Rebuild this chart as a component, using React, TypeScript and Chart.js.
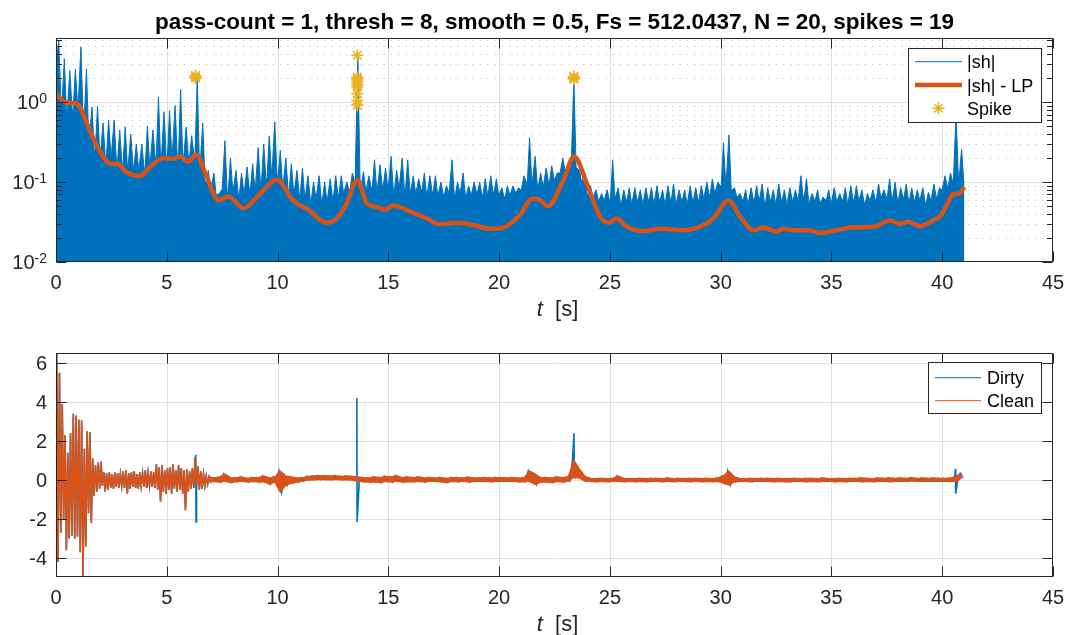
import { useEffect, useRef } from "react";
import { Chart, registerables } from "chart.js";

Chart.register(...registerables);

const FONT = '"Liberation Sans", Arimo, Arial, Helvetica, sans-serif';
const BLUE = "#0072BD";
const ORANGE = "#D95319";
const YELLOW = "#EDB120";
const INK = "#262626";

const TITLE =
  "pass-count = 1, thresh = 8, smooth = 0.5, Fs = 512.0437, N = 20, spikes = 19";

const T_MIN = 0;
const T_MAX = 45;
const xTicks = [0, 5, 10, 15, 20, 25, 30, 35, 40, 45];

// ---- upper panel: |sh| envelope (peak per 0.25 s bin, noise floor at bin edges) ----
const SH_BIN = 0.25;
const NEEDLE_HALF = 0.1;
const shPeaks = [
  5.9, 3.5, 2.5, 2.6,
  4.9, 2.6, 0.87, 0.89,
  0.55, 0.6, 0.6, 0.45,
  0.49, 0.4, 0.3, 0.3,
  0.5, 0.45, 1.16, 0.76,
  0.78, 0.91, 1.44, 0.49,
  0.38, 2.05, 0.55, 0.14,
  0.13, 0.072, 0.33, 0.2,
  0.14, 0.13, 0.155, 0.17,
  0.27, 0.3, 0.38, 0.57,
  0.25, 0.2, 0.17, 0.14,
  0.15, 0.12, 0.1, 0.12,
  0.1, 0.11, 0.12, 0.12,
  0.1, 0.13, 3.9, 0.135,
  0.12, 0.19, 0.165, 0.15,
  0.21, 0.14, 0.2, 0.19,
  0.12, 0.11, 0.13, 0.12,
  0.12, 0.1, 0.09, 0.19,
  0.1, 0.13, 0.09, 0.1,
  0.1, 0.11, 0.12, 0.11,
  0.085, 0.09, 0.09, 0.085,
  0.12, 0.36, 0.21, 0.13,
  0.15, 0.16, 0.13, 0.2,
  0.17, 2.0, 0.14, 0.13,
  0.09, 0.08, 0.072, 0.08,
  0.19, 0.085, 0.08, 0.085,
  0.085, 0.08, 0.085, 0.085,
  0.09, 0.08, 0.09, 0.095,
  0.08, 0.08, 0.09, 0.085,
  0.09, 0.1, 0.11, 0.1,
  0.31, 0.39, 0.085, 0.072,
  0.08, 0.085, 0.09, 0.095,
  0.085, 0.08, 0.095, 0.08,
  0.085, 0.08, 0.12, 0.11,
  0.072, 0.08, 0.065, 0.08,
  0.085, 0.072, 0.085, 0.09,
  0.09, 0.08, 0.072, 0.08,
  0.095, 0.08, 0.11, 0.1,
  0.085, 0.095, 0.085, 0.08,
  0.085, 0.075, 0.095, 0.085,
  0.12, 0.13, 0.7, 0.26,
];
const shFloor = [
  3.0, 1.0, 0.7, 0.8,
  0.9, 0.6, 0.35, 0.25,
  0.22, 0.2, 0.22, 0.18,
  0.17, 0.15, 0.16, 0.15,
  0.15, 0.17, 0.2, 0.18,
  0.2, 0.22, 0.2, 0.18,
  0.2, 0.22, 0.15, 0.1,
  0.08, 0.07, 0.08, 0.075,
  0.08, 0.07, 0.075, 0.08,
  0.085, 0.1, 0.11, 0.13,
  0.12, 0.09, 0.08, 0.075,
  0.07, 0.065, 0.06, 0.065,
  0.06, 0.06, 0.065, 0.07,
  0.075, 0.08, 0.1, 0.09,
  0.08, 0.085, 0.08, 0.09,
  0.085, 0.08, 0.09, 0.08,
  0.08, 0.075, 0.08, 0.07,
  0.075, 0.07, 0.07, 0.075,
  0.07, 0.075, 0.07, 0.07,
  0.075, 0.07, 0.07, 0.075,
  0.07, 0.065, 0.07, 0.075,
  0.08, 0.1, 0.1, 0.09,
  0.09, 0.1, 0.11, 0.13,
  0.14, 0.15, 0.15, 0.1,
  0.07, 0.065, 0.06, 0.06,
  0.06, 0.065, 0.055, 0.06,
  0.055, 0.06, 0.055, 0.06,
  0.055, 0.06, 0.055, 0.06,
  0.055, 0.06, 0.055, 0.06,
  0.06, 0.065, 0.07, 0.075,
  0.09, 0.1, 0.08, 0.065,
  0.06, 0.055, 0.06, 0.06,
  0.055, 0.06, 0.055, 0.06,
  0.055, 0.06, 0.06, 0.065,
  0.055, 0.06, 0.055, 0.06,
  0.055, 0.06, 0.06, 0.055,
  0.06, 0.06, 0.055, 0.06,
  0.06, 0.065, 0.065, 0.06,
  0.06, 0.065, 0.06, 0.06,
  0.06, 0.055, 0.06, 0.065,
  0.08, 0.09, 0.1, 0.12,
  0.1,
];

// low-passed |sh|
const lpT = [
  0, 0.42, 0.87, 1.08, 1.3, 1.72, 2.17, 2.47, 2.77, 3.15, 3.79, 4.24, 4.85, 5.3,
  5.6, 5.97, 6.32, 6.8, 7.33, 7.78, 8.46, 9.2, 9.96, 10.7, 11.4, 12.2, 12.67,
  13.12, 13.6, 14.03, 14.48, 14.85, 15.23, 15.98, 16.74, 17.34, 18.09, 18.84,
  19.6, 20.2, 20.95, 21.48, 21.84, 22.2, 22.9, 23.39, 23.96, 24.56, 24.94, 25.31,
  25.77, 26.5, 27.27, 28.3, 29.07, 29.67, 30.35, 30.88, 31.48, 31.93, 32.53,
  32.84, 33.29, 34.04, 34.5, 35.25, 35.85, 36.9, 37.65, 38.1, 38.48, 39.0, 39.6,
  39.9, 40.2, 40.5, 40.74, 41.0,
];
const lpV = [
  1.26, 1.0, 0.97, 0.87, 0.63, 0.335, 0.2, 0.17, 0.17, 0.135, 0.119, 0.155, 0.2,
  0.196, 0.21, 0.18, 0.22, 0.117, 0.059, 0.066, 0.047, 0.071, 0.107, 0.059,
  0.045, 0.031, 0.035, 0.054, 0.106, 0.054, 0.049, 0.045, 0.051, 0.043, 0.035,
  0.0296, 0.031, 0.029, 0.026, 0.027, 0.039, 0.062, 0.06, 0.05, 0.106, 0.21,
  0.096, 0.037, 0.031, 0.035, 0.0276, 0.0244, 0.026, 0.025, 0.0276, 0.035,
  0.059, 0.037, 0.025, 0.027, 0.024, 0.026, 0.025, 0.025, 0.023, 0.025, 0.027,
  0.0276, 0.033, 0.03, 0.032, 0.028, 0.0335, 0.037, 0.051, 0.071, 0.071, 0.087,
];

// detected spikes
const spikeT = [
  6.3, 6.3, 6.3,
  13.6, 13.6, 13.6, 13.6, 13.6, 13.6, 13.6, 13.6, 13.6, 13.6,
  23.37, 23.37, 23.37, 23.37,
  40.62, 40.62,
];
const spikeV = [
  2.0, 2.08, 2.15,
  3.87, 2.05, 1.98, 1.9, 1.79, 1.65, 1.55, 1.28, 1.06, 0.92,
  1.95, 2.0, 2.05, 2.1,
  0.68, 0.72,
];

const topYTicks = [0.01, 0.1, 1];
const topYMinor = [
  0.02, 0.03, 0.04, 0.05, 0.06, 0.07, 0.08, 0.09,
  0.2, 0.3, 0.4, 0.5, 0.6, 0.7, 0.8, 0.9,
  2, 3, 4, 5, 6,
];

// ---- lower panel: clean signal as max/min per bin ----
const CLEAN_EARLY_T0 = 0;
const CLEAN_EARLY_BIN = 0.125;
const cleanEarlyHi = [
  6.5, 5.5, 3.9, 2.3, 1.4, 2.4, 3.4, 3.3,
  3.1, 3.05, 1.6, 2.5, 2.45, 1.1, 0.75, 0.9,
  0.95, 0.4, 0.35, 0.4, 0.3, 0.4, 0.35, 0.3,
  0.45, 0.5, 0.35, 0.4, 0.45, 0.3, 0.4, 0.35,
  0.5, 0.35, 0.45, 0.4, 0.8, 0.65, 0.75, 0.5,
  0.6, 0.65, 0.8, 0.5, 0.75, 0.6, 0.5, 0.55,
  0.45, 0.6, 1.15, 0.7, 0.45, 0.3, 0.2, 0.15,
];
const cleanEarlyLo = [
  -4.2, -2.7, -2.0, -3.6, -3.0, -2.85, -3.0, -2.9,
  -3.7, -4.95, -3.4, -1.7, -2.2, -0.8, -0.6, -0.45,
  -0.3, -0.6, -0.5, -0.4, -0.45, -0.35, -0.4, -0.3,
  -0.4, -0.7, -0.45, -0.35, -0.4, -0.45, -0.3, -0.35,
  -0.4, -0.3, -0.35, -0.4, -0.5, -1.1, -0.6, -0.7,
  -0.5, -0.7, -0.45, -0.6, -0.5, -0.7, -1.55, -0.6,
  -0.45, -0.4, -0.3, -0.5, -0.45, -0.3, -0.2, -0.1,
];
const CLEAN_LATE_T0 = 7;
const CLEAN_LATE_BIN = 0.25;
const cleanLateHi = [
  0.1, 0.14, 0.3, 0.12,
  0.1, 0.15, 0.08, 0.12,
  0.12, 0.2, 0.1, 0.15,
  0.45, 0.2, 0.15, 0.1,
  0.12, 0.18, 0.2, 0.22,
  0.22, 0.2, 0.22, 0.18,
  0.2, 0.18, 0.15, 0.12,
  0.1, 0.15, 0.12, 0.18,
  0.15, 0.22, 0.12, 0.15,
  0.12, 0.15, 0.1, 0.12,
  0.1, 0.12, 0.08, 0.12,
  0.12, 0.1, 0.14, 0.1,
  0.1, 0.12, 0.1, 0.12,
  0.12, 0.1, 0.12, 0.1,
  0.1, 0.45, 0.3, 0.12,
  0.12, 0.1, 0.15, 0.12,
  0.15, 1.0, 0.55, 0.18,
  0.08, 0.06, 0.08, 0.06,
  0.08, 0.2, 0.08, 0.06,
  0.06, 0.08, 0.06, 0.08,
  0.08, 0.06, 0.1, 0.06,
  0.08, 0.06, 0.08, 0.08,
  0.06, 0.08, 0.06, 0.1,
  0.2, 0.45, 0.15, 0.08,
  0.06, 0.08, 0.06, 0.08,
  0.08, 0.06, 0.08, 0.06,
  0.06, 0.08, 0.06, 0.08,
  0.08, 0.06, 0.1, 0.06,
  0.06, 0.08, 0.06, 0.08,
  0.08, 0.1, 0.08, 0.06,
  0.1, 0.08, 0.1, 0.08,
  0.1, 0.08, 0.12, 0.08,
  0.1, 0.08, 0.1, 0.08,
  0.08, 0.1, 0.18, 0.35,
];
const cleanLateLo = [
  -0.06, -0.1, -0.05, -0.12,
  -0.08, -0.05, -0.1, -0.06,
  -0.1, -0.08, -0.2, -0.1,
  -0.6, -0.25, -0.15, -0.1,
  -0.05, 0.0, 0.02, 0.03,
  0.03, 0.02, 0.04, 0.02,
  0.02, 0.0, -0.05, -0.08,
  -0.1, -0.08, -0.12, -0.06,
  -0.1, -0.05, -0.1, -0.08,
  -0.08, -0.06, -0.1, -0.05,
  -0.06, -0.08, -0.12, -0.06,
  -0.08, -0.05, -0.1, -0.06,
  -0.06, -0.05, -0.08, -0.06,
  -0.05, -0.06, -0.05, -0.08,
  -0.08, -0.05, -0.22, -0.1,
  -0.08, -0.12, -0.06, -0.1,
  -0.05, 0.15, 0.1, -0.05,
  -0.06, -0.08, -0.06, -0.08,
  -0.06, -0.05, -0.08, -0.06,
  -0.08, -0.06, -0.08, -0.06,
  -0.06, -0.08, -0.05, -0.08,
  -0.06, -0.06, -0.08, -0.05,
  -0.08, -0.06, -0.08, -0.06,
  -0.15, -0.25, -0.08, -0.06,
  -0.06, -0.08, -0.05, -0.06,
  -0.06, -0.08, -0.06, -0.08,
  -0.08, -0.05, -0.06, -0.08,
  -0.06, -0.08, -0.06, -0.05,
  -0.08, -0.06, -0.08, -0.06,
  -0.05, -0.08, -0.06, -0.08,
  -0.06, -0.05, -0.08, -0.06,
  -0.05, -0.06, -0.04, -0.06,
  -0.05, -0.06, -0.05, -0.06,
  -0.06, -0.05, -0.08, 0.12,
];

// raw spikes present only in the dirty signal
const dirtySpikeT = [6.31, 6.32, 13.58, 13.59, 23.38, 23.39, 40.6, 40.61];
const dirtySpikeV = [1.3, -2.15, 4.2, -2.15, 2.4, 0.3, 0.57, -0.7];

const bottomYTicks = [-4, -2, 0, 2, 4, 6];
const BOTTOM_Y_MIN = -4.97;
const BOTTOM_Y_MAX = 6.51;
const TOP_Y_MIN = 0.01;
const TOP_Y_MAX = 6.37;

type Pt = { x: number; y: number };

// |sh| drawn as tapered needles rising from the noise floor
function shSeries(): Pt[] {
  const pts: Pt[] = [];
  shPeaks.forEach((p, k) => {
    const c = (k + 0.5) * SH_BIN;
    pts.push({ x: k * SH_BIN, y: shFloor[k] });
    pts.push({ x: c - NEEDLE_HALF, y: shFloor[k] });
    pts.push({ x: c, y: p });
    pts.push({ x: c + NEEDLE_HALF, y: shFloor[k + 1] });
  });
  pts.push({ x: shPeaks.length * SH_BIN, y: shFloor[shPeaks.length] });
  return pts;
}

function zigzag(hi: number[], lo: number[], t0: number, dt: number): Pt[] {
  const pts: Pt[] = [];
  hi.forEach((h, k) => {
    pts.push({ x: t0 + (k + 0.25) * dt, y: h });
    pts.push({ x: t0 + (k + 0.75) * dt, y: lo[k] });
  });
  return pts;
}

function edge(vals: number[], t0: number, dt: number): Pt[] {
  return vals.map((v, k) => ({ x: t0 + (k + 0.5) * dt, y: v }));
}

const cleanEarly = () => zigzag(cleanEarlyHi, cleanEarlyLo, CLEAN_EARLY_T0, CLEAN_EARLY_BIN);

function dirtySeries(): Pt[] {
  const extra = dirtySpikeT.map((t, i) => ({ x: t, y: dirtySpikeV[i] }));
  return [
    ...cleanEarly(),
    ...zigzag(cleanLateHi, cleanLateLo, CLEAN_LATE_T0, CLEAN_LATE_BIN),
    ...extra,
  ].sort((a, b) => a.x - b.x);
}

const TICK_PX = 20;
const SUP_PX = 14;
const LABEL_PX = 22;
const TITLE_PX = 22.5;
const LEGEND_PX = 18;

type LegendItem = { text: string; kind: "line" | "star"; color: string; width: number };
type PanelSpec = {
  log: boolean;
  yTicks: number[];
  yMinor: number[];
  title?: string;
  legend: {
    box: [number, number, number, number];
    rows: number[];
    lineX: [number, number];
    textX: number;
    items: LegendItem[];
  };
};

function drawStar(ctx: CanvasRenderingContext2D, cx: number, cy: number, r: number) {
  const d = r * Math.SQRT1_2;
  ctx.beginPath();
  ctx.moveTo(cx - r, cy); ctx.lineTo(cx + r, cy);
  ctx.moveTo(cx, cy - r); ctx.lineTo(cx, cy + r);
  ctx.moveTo(cx - d, cy - d); ctx.lineTo(cx + d, cy + d);
  ctx.moveTo(cx - d, cy + d); ctx.lineTo(cx + d, cy - d);
  ctx.stroke();
}

function panelPlugin(spec: PanelSpec) {
  const crisp = (v: number) => Math.round(v) + 0.5;
  return {
    id: "panelDecor",
    beforeDatasetsDraw(chart: any) {
      const { ctx, chartArea: a, scales } = chart;
      const xs = scales.x;
      const ys = scales.y;
      ctx.save();
      ctx.lineWidth = 1;
      if (spec.yMinor.length) {
        ctx.strokeStyle = "#bdbdbd";
        ctx.setLineDash([1, 6.4]);
        for (const v of spec.yMinor) {
          const y = crisp(ys.getPixelForValue(v));
          if (y <= a.top || y >= a.bottom) continue;
          ctx.beginPath();
          ctx.moveTo(a.left + 2, y);
          ctx.lineTo(a.right, y);
          ctx.stroke();
        }
        ctx.setLineDash([]);
      }
      ctx.strokeStyle = "#dfdfdf";
      for (const v of xTicks) {
        const x = crisp(xs.getPixelForValue(v));
        if (x <= a.left + 1 || x >= a.right - 1) continue;
        ctx.beginPath();
        ctx.moveTo(x, a.top);
        ctx.lineTo(x, a.bottom);
        ctx.stroke();
      }
      for (const v of spec.yTicks) {
        const y = crisp(ys.getPixelForValue(v));
        if (y <= a.top + 1 || y >= a.bottom - 1) continue;
        ctx.beginPath();
        ctx.moveTo(a.left, y);
        ctx.lineTo(a.right, y);
        ctx.stroke();
      }
      ctx.restore();
    },
    afterDatasetsDraw(chart: any) {
      const { ctx, chartArea: a, scales } = chart;
      const xs = scales.x;
      const ys = scales.y;
      const L = Math.round(a.left) + 0.5;
      const R = Math.round(a.right) - 0.5;
      const T = Math.round(a.top) + 0.5;
      const B = Math.round(a.bottom) - 0.5;
      ctx.save();
      ctx.strokeStyle = INK;
      ctx.lineWidth = 1;
      const major = 10;
      const minor = 5.5;
      ctx.beginPath();
      for (const v of xTicks) {
        const x = crisp(xs.getPixelForValue(v));
        ctx.moveTo(x, B); ctx.lineTo(x, B - major);
        ctx.moveTo(x, T); ctx.lineTo(x, T + major);
      }
      for (const v of spec.yTicks) {
        const y = crisp(ys.getPixelForValue(v));
        ctx.moveTo(L, y); ctx.lineTo(L + major, y);
        ctx.moveTo(R, y); ctx.lineTo(R - major, y);
      }
      for (const v of spec.yMinor) {
        const y = crisp(ys.getPixelForValue(v));
        if (y <= a.top || y >= a.bottom) continue;
        ctx.moveTo(L, y); ctx.lineTo(L + minor, y);
        ctx.moveTo(R, y); ctx.lineTo(R - minor, y);
      }
      ctx.stroke();
      ctx.strokeRect(L, T, R - L, B - T);
      ctx.restore();
    },
    afterDraw(chart: any) {
      const { ctx, chartArea: a, scales } = chart;
      const xs = scales.x;
      const ys = scales.y;
      ctx.save();
      ctx.fillStyle = INK;
      // x tick labels
      ctx.font = `${TICK_PX}px ${FONT}`;
      ctx.textAlign = "center";
      ctx.textBaseline = "alphabetic";
      for (const v of xTicks) {
        ctx.fillText(String(v), xs.getPixelForValue(v), a.bottom + 27);
      }
      // y tick labels
      for (const v of spec.yTicks) {
        const y = ys.getPixelForValue(v);
        const xr = a.left - 9;
        if (spec.log) {
          const base = "10";
          const sup = String(Math.round(Math.log10(v)));
          ctx.font = `${SUP_PX}px ${FONT}`;
          const sw = ctx.measureText(sup).width;
          ctx.textAlign = "right";
          ctx.fillText(sup, xr, y + 1);
          ctx.font = `${TICK_PX}px ${FONT}`;
          ctx.fillText(base, xr - sw, y + 7);
        } else {
          ctx.font = `${TICK_PX}px ${FONT}`;
          ctx.textAlign = "right";
          ctx.fillText(String(v), xr, y + 7);
        }
      }
      // axis label: italic t, then unit
      const cx = (a.left + a.right) / 2 + 3;
      const by = a.bottom + 54;
      ctx.font = `italic ${LABEL_PX}px ${FONT}`;
      const wt = ctx.measureText("t").width;
      ctx.font = `${LABEL_PX}px ${FONT}`;
      const wu = ctx.measureText("  [s]").width;
      const x0 = cx - (wt + wu) / 2;
      ctx.textAlign = "left";
      ctx.font = `italic ${LABEL_PX}px ${FONT}`;
      ctx.fillText("t", x0, by);
      ctx.font = `${LABEL_PX}px ${FONT}`;
      ctx.fillText("  [s]", x0 + wt, by);
      // title
      if (spec.title) {
        ctx.fillStyle = "#000";
        ctx.font = `bold ${TITLE_PX}px ${FONT}`;
        ctx.textAlign = "center";
        ctx.fillText(spec.title, (a.left + a.right) / 2, a.top - 9.5);
      }
      // legend
      const lg = spec.legend;
      const [bx0, by0, bx1, by1] = lg.box;
      ctx.fillStyle = "#fff";
      ctx.fillRect(bx0, by0, bx1 - bx0, by1 - by0);
      ctx.strokeStyle = INK;
      ctx.lineWidth = 1;
      ctx.strokeRect(Math.round(bx0) + 0.5, Math.round(by0) + 0.5, Math.round(bx1 - bx0), Math.round(by1 - by0));
      lg.items.forEach((it, i) => {
        const ry = lg.rows[i];
        ctx.strokeStyle = it.color;
        ctx.lineWidth = it.width;
        if (it.kind === "line") {
          ctx.beginPath();
          ctx.moveTo(lg.lineX[0], ry);
          ctx.lineTo(lg.lineX[1], ry);
          ctx.stroke();
        } else {
          drawStar(ctx, (lg.lineX[0] + lg.lineX[1]) / 2, ry, 6);
        }
        ctx.fillStyle = "#000";
        ctx.font = `${LEGEND_PX}px ${FONT}`;
        ctx.textAlign = "left";
        ctx.fillText(it.text, lg.textX, ry + 6.5);
      });
      ctx.restore();
    },
  };
}

function baseScales(log: boolean, yMin: number, yMax: number, yTicks: number[], xHeight: number) {
  return {
    x: {
      type: "linear" as const,
      min: T_MIN,
      max: T_MAX,
      grid: { display: false },
      border: { display: false },
      ticks: { display: false },
      afterFit: (s: any) => {
        s.height = xHeight;
      },
    },
    y: {
      type: (log ? "logarithmic" : "linear") as any,
      min: yMin,
      max: yMax,
      grid: { display: false },
      border: { display: false },
      ticks: { display: false },
      afterBuildTicks: (s: any) => {
        s.ticks = yTicks.map((v) => ({ value: v }));
      },
      afterFit: (s: any) => {
        s.width = 56;
      },
    },
  };
}

export default function App() {
  const topRef = useRef<HTMLCanvasElement>(null);
  const botRef = useRef<HTMLCanvasElement>(null);

  useEffect(() => {
    const TOP_H = 322;
    const BOT_H = 313;

    const topChart = new Chart(topRef.current!, {
      type: "line",
      data: {
        datasets: [
          {
            label: "|sh|",
            data: shSeries(),
            borderColor: BLUE,
            backgroundColor: BLUE,
            borderWidth: 1,
            pointRadius: 0,
            fill: "start",
            order: 3,
          },
          {
            label: "|sh| - LP",
            data: lpT.map((t, i) => ({ x: t, y: lpV[i] })),
            borderColor: ORANGE,
            borderWidth: 4.5,
            pointRadius: 0,
            fill: false,
            cubicInterpolationMode: "monotone",
            order: 2,
          },
          {
            label: "Spike",
            data: spikeT.map((t, i) => ({ x: t, y: spikeV[i] })),
            showLine: false,
            pointStyle: "star",
            pointRadius: 6,
            borderColor: YELLOW,
            backgroundColor: YELLOW,
            borderWidth: 1.6,
            order: 1,
          },
        ] as any,
      },
      options: {
        animation: false,
        responsive: false,
        devicePixelRatio: 1,
        layout: { padding: { left: 0, top: 38, right: 14, bottom: 0 } },
        plugins: { legend: { display: false }, tooltip: { enabled: false }, title: { display: false } },
        scales: baseScales(true, TOP_Y_MIN, TOP_Y_MAX, topYTicks, TOP_H - 262) as any,
      },
      plugins: [
        panelPlugin({
          log: true,
          yTicks: topYTicks,
          yMinor: topYMinor,
          title: TITLE,
          legend: {
            box: [908, 48, 1041, 122],
            rows: [61.7, 85, 108.3],
            lineX: [915, 962],
            textX: 967,
            items: [
              { text: "|sh|", kind: "line", color: BLUE, width: 1 },
              { text: "|sh| - LP", kind: "line", color: ORANGE, width: 4.5 },
              { text: "Spike", kind: "star", color: YELLOW, width: 1.6 },
            ],
          },
        }),
      ],
    });

    const botChart = new Chart(botRef.current!, {
      type: "line",
      data: {
        datasets: [
          {
            label: "Dirty",
            data: dirtySeries(),
            borderColor: BLUE,
            borderWidth: 1.6,
            pointRadius: 0,
            fill: false,
            order: 4,
          },
          {
            label: "Clean",
            data: cleanEarly(),
            borderColor: ORANGE,
            borderWidth: 1.6,
            pointRadius: 0,
            fill: false,
            order: 3,
          },
          {
            label: "Clean max",
            data: [cleanEarly().slice(-2)[0], ...edge(cleanLateHi, CLEAN_LATE_T0, CLEAN_LATE_BIN)],
            borderColor: ORANGE,
            borderWidth: 1.6,
            pointRadius: 0,
            fill: false,
            order: 2,
          },
          {
            label: "Clean min",
            data: [cleanEarly().slice(-1)[0], ...edge(cleanLateLo, CLEAN_LATE_T0, CLEAN_LATE_BIN)],
            borderColor: ORANGE,
            backgroundColor: ORANGE,
            borderWidth: 1.6,
            pointRadius: 0,
            fill: "-1",
            order: 1,
          },
        ] as any,
      },
      options: {
        animation: false,
        responsive: false,
        devicePixelRatio: 1,
        layout: { padding: { left: 0, top: 31, right: 14, bottom: 0 } },
        plugins: { legend: { display: false }, tooltip: { enabled: false }, title: { display: false }, filler: { propagate: false } },
        scales: baseScales(false, BOTTOM_Y_MIN, BOTTOM_Y_MAX, bottomYTicks, BOT_H - 255) as any,
      },
      plugins: [
        panelPlugin({
          log: false,
          yTicks: bottomYTicks,
          yMinor: [],
          legend: {
            box: [928, 40.3, 1041, 91.3],
            rows: [55.7, 78.7],
            lineX: [935, 981],
            textX: 987,
            items: [
              { text: "Dirty", kind: "line", color: BLUE, width: 1 },
              { text: "Clean", kind: "line", color: ORANGE, width: 1 },
            ],
          },
        }),
      ],
    });

    return () => {
      topChart.destroy();
      botChart.destroy();
    };
  }, []);

  return (
    <div style={{ position: "absolute", left: 0, top: 0, width: 1067, height: 635, background: "#fff" }}>
      <canvas ref={topRef} width={1067} height={322} style={{ position: "absolute", left: 0, top: 0 }} />
      <canvas ref={botRef} width={1067} height={313} style={{ position: "absolute", left: 0, top: 322 }} />
    </div>
  );
}
